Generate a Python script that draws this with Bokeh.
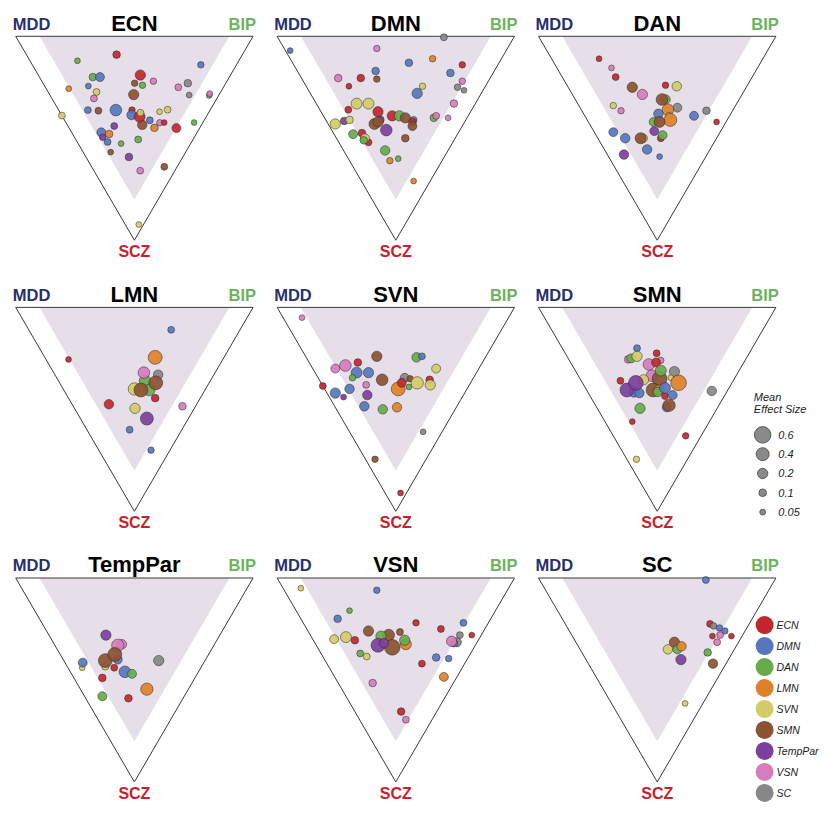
import numpy as np
from bokeh.plotting import figure
from bokeh.models import Range1d, ColumnDataSource
from bokeh.embed import file_html
from bokeh.resources import INLINE
from bokeh.core.properties import value

# ---------------- data ----------------
NETWORKS = ["ECN", "DMN", "DAN", "LMN", "SVN", "SMN", "TempPar", "VSN", "SC"]
NET_COLORS = ["#c1272d", "#5577bd", "#67ab4b", "#e0812a", "#d3cc66",
              "#8b5330", "#7d3f9d", "#d77cbc", "#878787"]
LEGEND_LABELS = ["ECN", "DMN", "DAN", "LMN", "SVN", "SMN", "TempPar", "VSN", "SC"]
SIZE_LEGEND_ES = [0.6, 0.4, 0.2, 0.1, 0.05]
SIZE_LEGEND_LABELS = ["0.6", "0.4", "0.2", "0.1", "0.05"]
CORNER_LABELS = ["MDD", "BIP", "SCZ"]
PANEL_TITLES = ["ECN", "DMN", "DAN", "LMN", "SVN", "SMN", "TempPar", "VSN", "SC"]

# each panel: network of point, BIP share, SCZ share (MDD = 1 - BIP - SCZ), mean effect size
ECN_NET = ["ECN", "DAN", "DMN", "ECN", "DAN", "DMN", "VSN", "SMN", "DAN", "DMN", "SC", "VSN", "LMN",
           "SVN", "SMN", "SC", "SC", "VSN", "VSN", "DMN", "SMN", "DMN", "ECN", "DMN", "SMN", "ECN",
           "SVN", "SVN", "SVN", "SVN", "DMN", "VSN", "ECN", "LMN", "ECN", "DAN", "TempPar", "DMN",
           "LMN", "TempPar", "DMN", "DAN", "DAN", "SMN", "TempPar", "SMN", "VSN", "SVN"]
ECN_BIP = [0.38, 0.20, 0.71, 0.43, 0.225, 0.255, 0.47, 0.386, 0.414, 0.184, 0.61, 0.56, 0.095,
           0.204, 0.354, 0.587, 0.67, 0.677, 0.177, 0.123, 0.166, 0.241, 0.309, 0.295, 0.316, 0.325,
           0.338, 0.421, 0.46, 0.0, 0.359, 0.395, 0.414, 0.36, 0.452, 0.54, 0.195, 0.125,
           0.154, 0.119, 0.128, 0.181, 0.263, 0.116, 0.181, 0.306, 0.195, 0.057]
ECN_SCZ = [0.09, 0.12, 0.14, 0.19, 0.20, 0.20, 0.22, 0.23, 0.24, 0.244, 0.23, 0.25, 0.257,
           0.273, 0.286, 0.288, 0.29, 0.281, 0.305, 0.362, 0.365, 0.362, 0.362, 0.386, 0.434, 0.394,
           0.375, 0.37, 0.36, 0.389, 0.412, 0.424, 0.423, 0.449, 0.45, 0.423, 0.44, 0.471,
           0.479, 0.495, 0.518, 0.526, 0.506, 0.568, 0.592, 0.64, 0.659, 0.923]
ECN_ES = [0.1, 0.05, 0.07, 0.2, 0.1, 0.15, 0.07, 0.07, 0.07, 0.05, 0.1, 0.08, 0.05,
          0.08, 0.2, 0.05, 0.05, 0.05, 0.08, 0.08, 0.08, 0.3, 0.07, 0.17, 0.17, 0.25,
          0.08, 0.05, 0.08, 0.08, 0.08, 0.07, 0.05, 0.1, 0.15, 0.05, 0.08, 0.15,
          0.1, 0.07, 0.08, 0.05, 0.08, 0.05, 0.1, 0.08, 0.08, 0.05]

DMN_NET = ["SC", "DMN", "VSN", "DMN", "LMN", "ECN", "DMN", "DMN", "SMN", "ECN", "VSN", "ECN",
           "VSN", "SVN", "SC", "SC", "DMN", "SVN", "SVN", "VSN", "ECN", "ECN", "TempPar", "ECN",
           "DAN", "SMN", "DMN", "ECN", "SMN", "DAN", "VSN", "VSN", "TempPar", "SVN", "SVN", "SMN",
           "SMN", "TempPar", "DAN", "ECN", "ECN", "SVN", "DAN", "SMN", "DAN", "LMN", "DAN", "LMN"]
DMN_BIP = [0.70, 0.02, 0.39, 0.49, 0.60, 0.71, 0.64, 0.33, 0.315, 0.25, 0.155, 0.18,
           0.67, 0.49, 0.635, 0.655, 0.45, 0.17, 0.22, 0.58, 0.12, 0.24, 0.23, 0.29,
           0.32, 0.34, 0.37, 0.36, 0.35, 0.46, 0.475, 0.52, 0.075, 0.10, 0.03, 0.195,
           0.215, 0.23, 0.08, 0.12, 0.125, 0.12, 0.11, 0.29, 0.175, 0.17, 0.21, 0.22]
DMN_SCZ = [0.005, 0.07, 0.06, 0.13, 0.11, 0.14, 0.18, 0.17, 0.21, 0.205, 0.205, 0.245,
           0.22, 0.245, 0.25, 0.265, 0.28, 0.33, 0.33, 0.33, 0.36, 0.37, 0.41, 0.39,
           0.39, 0.40, 0.41, 0.42, 0.44, 0.40, 0.39, 0.40, 0.415, 0.41, 0.43, 0.43,
           0.42, 0.46, 0.48, 0.475, 0.52, 0.50, 0.51, 0.50, 0.56, 0.61, 0.60, 0.71]
DMN_ES = [0.08, 0.05, 0.07, 0.1, 0.07, 0.07, 0.1, 0.1, 0.07, 0.1, 0.1, 0.05,
          0.07, 0.07, 0.07, 0.05, 0.2, 0.25, 0.25, 0.1, 0.08, 0.2, 0.1, 0.2,
          0.2, 0.2, 0.08, 0.1, 0.15, 0.1, 0.08, 0.05, 0.1, 0.1, 0.2, 0.25,
          0.2, 0.3, 0.15, 0.1, 0.08, 0.15, 0.1, 0.1, 0.17, 0.07, 0.05, 0.05]

DAN_NET = ["ECN", "VSN", "ECN", "ECN", "SVN", "SMN", "VSN", "DAN", "SMN", "SC", "LMN", "SVN",
           "VSN", "SC", "DMN", "ECN", "DMN", "SVN", "LMN", "DAN", "SMN", "TempPar", "ECN", "DAN",
           "DMN", "DMN", "SVN", "SMN", "DMN", "TempPar", "DMN"]
DAN_BIP = [0.20, 0.23, 0.225, 0.415, 0.46, 0.27, 0.295, 0.38, 0.365, 0.41, 0.365, 0.145,
           0.165, 0.525, 0.46, 0.54, 0.315, 0.355, 0.35, 0.275, 0.30, 0.255, 0.265, 0.28,
           0.08, 0.115, 0.19, 0.18, 0.18, 0.07, 0.215]
DAN_SCZ = [0.11, 0.155, 0.20, 0.24, 0.245, 0.25, 0.285, 0.31, 0.31, 0.35, 0.36, 0.34,
           0.365, 0.365, 0.39, 0.42, 0.38, 0.39, 0.41, 0.42, 0.42, 0.465, 0.50, 0.485,
           0.47, 0.50, 0.50, 0.50, 0.555, 0.58, 0.59]
DAN_ES = [0.05, 0.04, 0.08, 0.07, 0.17, 0.2, 0.2, 0.17, 0.3, 0.15, 0.3, 0.07,
          0.07, 0.1, 0.15, 0.05, 0.17, 0.08, 0.4, 0.15, 0.25, 0.15, 0.08, 0.15,
          0.15, 0.17, 0.15, 0.25, 0.17, 0.17, 0.05]

LMN_NET = ["DMN", "ECN", "LMN", "SVN", "DAN", "DAN", "SMN", "VSN", "SC", "SMN", "ECN", "ECN",
           "VSN", "SVN", "TempPar", "DMN", "DMN"]
LMN_BIP = [0.60, 0.095, 0.465, 0.30, 0.365, 0.36, 0.325, 0.38, 0.435, 0.405, 0.365, 0.155,
           0.46, 0.255, 0.28, 0.18, 0.22]
LMN_SCZ = [0.11, 0.255, 0.245, 0.40, 0.36, 0.405, 0.405, 0.32, 0.33, 0.37, 0.445, 0.475,
           0.485, 0.495, 0.545, 0.60, 0.70]
LMN_ES = [0.08, 0.05, 0.45, 0.35, 0.3, 0.3, 0.45, 0.3, 0.17, 0.45, 0.1, 0.17,
          0.1, 0.2, 0.4, 0.08, 0.07]

SVN_NET = ["VSN", "SMN", "DAN", "DMN", "ECN", "VSN", "VSN", "SVN", "DMN", "DMN", "DAN", "SMN",
           "SC", "SMN", "ECN", "LMN", "ECN", "SVN", "SVN", "DAN", "VSN", "ECN", "DMN", "DMN",
           "TempPar", "TempPar", "DMN", "DAN", "LMN", "SC", "SMN", "ECN"]
SVN_BIP = [0.08, 0.30, 0.465, 0.49, 0.205, 0.095, 0.145, 0.52, 0.175, 0.225, 0.145, 0.265,
           0.365, 0.385, 0.465, 0.31, 0.34, 0.405, 0.455, 0.36, 0.185, 0.0, 0.105, 0.035,
           0.06, 0.165, 0.125, 0.195, 0.26, 0.31, 0.04, 0.065]
SVN_SCZ = [0.05, 0.24, 0.245, 0.24, 0.27, 0.30, 0.285, 0.30, 0.32, 0.32, 0.345, 0.355,
           0.345, 0.35, 0.355, 0.40, 0.37, 0.37, 0.38, 0.39, 0.38, 0.385, 0.40, 0.42,
           0.44, 0.43, 0.485, 0.50, 0.49, 0.61, 0.745, 0.91]
SVN_ES = [0.05, 0.2, 0.17, 0.08, 0.1, 0.15, 0.3, 0.15, 0.25, 0.2, 0.07, 0.3,
          0.15, 0.07, 0.1, 0.45, 0.15, 0.35, 0.2, 0.05, 0.08, 0.08, 0.17, 0.2,
          0.05, 0.17, 0.17, 0.17, 0.17, 0.05, 0.07, 0.05]

SMN_NET = ["DMN", "ECN", "VSN", "DAN", "SVN", "VSN", "VSN", "ECN", "SC", "VSN", "SMN", "DAN",
           "SVN", "SVN", "LMN", "ECN", "DMN", "DMN", "TempPar", "TempPar", "SMN", "LMN", "DAN",
           "ECN", "DMN", "DMN", "DMN", "SMN", "DAN", "SC", "ECN", "ECN", "SVN"]
SMN_BIP = [0.315, 0.385, 0.25, 0.265, 0.295, 0.385, 0.325, 0.36, 0.415, 0.31, 0.335, 0.36,
           0.265, 0.385, 0.405, 0.165, 0.195, 0.215, 0.17, 0.225, 0.28, 0.305, 0.295,
           0.315, 0.335, 0.35, 0.295, 0.31, 0.18, 0.525, 0.115, 0.305, 0.04]
SMN_SCZ = [0.20, 0.225, 0.255, 0.25, 0.24, 0.26, 0.28, 0.27, 0.315, 0.335, 0.35, 0.31,
           0.355, 0.345, 0.37, 0.36, 0.415, 0.42, 0.405, 0.37, 0.405, 0.405, 0.415,
           0.435, 0.395, 0.43, 0.49, 0.48, 0.495, 0.41, 0.56, 0.63, 0.745]
SMN_ES = [0.08, 0.08, 0.1, 0.15, 0.2, 0.07, 0.3, 0.15, 0.2, 0.3, 0.5, 0.25,
          0.2, 0.05, 0.55, 0.08, 0.2, 0.17, 0.45, 0.5, 0.45, 0.2, 0.17,
          0.08, 0.25, 0.15, 0.15, 0.35, 0.2, 0.17, 0.05, 0.07, 0.07]

TEMPPAR_NET = ["TempPar", "VSN", "VSN", "DMN", "SVN", "SMN", "SMN", "ECN", "SC", "SVN", "DMN",
               "DMN", "DAN", "ECN", "LMN", "DAN", "ECN"]
TEMPPAR_BIP = [0.24, 0.285, 0.265, 0.23, 0.16, 0.175, 0.23, 0.195, 0.40, 0.06, 0.075,
               0.23, 0.255, 0.12, 0.28, 0.075, 0.18]
TEMPPAR_SCZ = [0.28, 0.325, 0.33, 0.40, 0.435, 0.405, 0.375, 0.44, 0.405, 0.44, 0.415,
               0.46, 0.47, 0.49, 0.545, 0.58, 0.59]
TEMPPAR_ES = [0.2, 0.17, 0.35, 0.15, 0.08, 0.45, 0.45, 0.08, 0.2, 0.05, 0.15,
              0.3, 0.15, 0.1, 0.35, 0.15, 0.1]

VSN_NET = ["SVN", "DMN", "DAN", "DMN", "ECN", "DMN", "ECN", "ECN", "SC", "SMN", "SMN", "SMN",
           "DAN", "SVN", "SVN", "ECN", "LMN", "DAN", "TempPar", "SMN", "TempPar", "SC", "DMN",
           "VSN", "DAN", "SVN", "DMN", "DMN", "ECN", "LMN", "VSN", "ECN", "VSN"]
VSN_BIP = [0.075, 0.39, 0.225, 0.155, 0.475, 0.675, 0.565, 0.68, 0.63, 0.255, 0.385, 0.33,
           0.295, 0.145, 0.09, 0.175, 0.38, 0.385, 0.26, 0.315, 0.29, 0.60, 0.585,
           0.58, 0.165, 0.185, 0.475, 0.525, 0.40, 0.46, 0.145, 0.195, 0.195]
VSN_SCZ = [0.05, 0.06, 0.16, 0.20, 0.22, 0.22, 0.25, 0.28, 0.28, 0.26, 0.265, 0.28,
           0.285, 0.29, 0.30, 0.305, 0.325, 0.305, 0.33, 0.34, 0.32, 0.315, 0.32,
           0.31, 0.37, 0.385, 0.39, 0.395, 0.42, 0.485, 0.515, 0.655, 0.695]
VSN_ES = [0.05, 0.07, 0.05, 0.1, 0.07, 0.08, 0.08, 0.05, 0.08, 0.2, 0.08, 0.3,
          0.2, 0.25, 0.15, 0.1, 0.25, 0.2, 0.45, 0.55, 0.17, 0.15, 0.1,
          0.2, 0.08, 0.08, 0.1, 0.07, 0.08, 0.15, 0.1, 0.1, 0.08]

SC_NET = ["DMN", "ECN", "SC", "DMN", "DMN", "VSN", "ECN", "ECN", "VSN", "SMN", "SVN", "DAN",
          "LMN", "DAN", "TempPar", "SMN", "SVN"]
SC_BIP = [0.70, 0.61, 0.62, 0.64, 0.655, 0.625, 0.59, 0.67, 0.595, 0.415, 0.37, 0.41,
          0.435, 0.53, 0.40, 0.525, 0.31]
SC_SCZ = [0.01, 0.225, 0.235, 0.245, 0.26, 0.28, 0.285, 0.285, 0.315, 0.315, 0.35, 0.35,
          0.335, 0.365, 0.40, 0.42, 0.615]
SC_ES = [0.08, 0.08, 0.07, 0.07, 0.07, 0.08, 0.05, 0.05, 0.08, 0.2, 0.17, 0.15,
         0.17, 0.1, 0.2, 0.17, 0.05]

PANEL_DATA = [
    (ECN_NET, ECN_BIP, ECN_SCZ, ECN_ES),
    (DMN_NET, DMN_BIP, DMN_SCZ, DMN_ES),
    (DAN_NET, DAN_BIP, DAN_SCZ, DAN_ES),
    (LMN_NET, LMN_BIP, LMN_SCZ, LMN_ES),
    (SVN_NET, SVN_BIP, SVN_SCZ, SVN_ES),
    (SMN_NET, SMN_BIP, SMN_SCZ, SMN_ES),
    (TEMPPAR_NET, TEMPPAR_BIP, TEMPPAR_SCZ, TEMPPAR_ES),
    (VSN_NET, VSN_BIP, VSN_SCZ, VSN_ES),
    (SC_NET, SC_BIP, SC_SCZ, SC_ES),
]

# ---------------- layout / style ----------------
FONT = value("Liberation Sans")
PANEL_X = [15.5, 282.0, 548.5]
PANEL_Y = [36.5, 313.0, 589.0]
TRI_W = 242.0
TRI_H = 208.0
SHADE_MIN = 0.1          # shaded region: MDD >= 0.1 and BIP >= 0.1
ES_SCALE = [0.05, 0.1, 0.2, 0.4, 0.6]
DIAM_SCALE = [5.8, 7.6, 10.3, 13.0, 16.5]
COLOR_MAP = dict(zip(NETWORKS, NET_COLORS))
MDD_COLOR, BIP_COLOR, SCZ_COLOR = "#27306b", "#6cb35e", "#c8212b"
SHADE_COLOR = "#e6dee8"

p = figure(width=822, height=803, output_backend="svg", toolbar_location=None,
           x_range=Range1d(0, 838), y_range=Range1d(819, 0), min_border=0)
p.axis.visible = False
p.grid.visible = False
p.outline_line_color = None
p.background_fill_color = "white"


def tern(x0, y0, mdd, bip, scz):
    x = x0 + TRI_W * (np.asarray(bip) + np.asarray(scz) / 2.0)
    y = y0 + TRI_H * np.asarray(scz)
    return x, y


shade_xs, shade_ys, out_xs, out_ys = [], [], [], []
tx, ty, tt = [], [], []
mx, my, bx, by, sx, sy = [], [], [], [], [], []
pts = dict(x=[], y=[], color=[], size=[])

for i, (net, bip, scz, es) in enumerate(PANEL_DATA):
    x0 = PANEL_X[i % 3]
    y0 = PANEL_Y[i // 3]
    # outer triangle: MDD, BIP, SCZ corners
    ox, oy = tern(x0, y0, [1, 0, 0], [0, 1, 0], [0, 0, 1])
    out_xs.append(list(ox) + [ox[0]])
    out_ys.append(list(oy) + [oy[0]])
    m = SHADE_MIN
    ix, iy = tern(x0, y0, [1 - m, m, m], [m, 1 - m, m], [0, 0, 1 - 2 * m])
    shade_xs.append(list(ix))
    shade_ys.append(list(iy))
    tx.append(x0 + TRI_W / 2)
    ty.append(y0 - 13.5)
    tt.append(PANEL_TITLES[i])
    mx.append(ox[0] - 3); my.append(oy[0] - 13)
    bx.append(ox[1] + 3); by.append(oy[1] - 13)
    sx.append(ox[2]); sy.append(oy[2] + 11.5)
    mdd = 1 - np.asarray(bip) - np.asarray(scz)
    px, py = tern(x0, y0, mdd, bip, scz)
    pts["x"] += list(px)
    pts["y"] += list(py)
    pts["color"] += [COLOR_MAP[n] for n in net]
    pts["size"] += list(np.interp(es, ES_SCALE, DIAM_SCALE))

p.patches(shade_xs, shade_ys, fill_color=SHADE_COLOR, line_color=None)
p.multi_line(out_xs, out_ys, line_color="#3a3a3a", line_width=1)

p.scatter("x", "y", source=ColumnDataSource(pts), size="size", fill_color="color",
          fill_alpha=0.92, line_color="#2a2a2a", line_alpha=0.75, line_width=0.7)

p.text(tx, ty, text=tt, text_font=FONT, text_font_style="bold", text_font_size="22px",
       text_align="center", text_baseline="middle", text_color="black")
p.text(mx, my, text=[CORNER_LABELS[0]] * 9, text_font=FONT, text_font_style="bold",
       text_font_size="16.5px", text_align="left", text_baseline="middle", text_color=MDD_COLOR)
p.text(bx, by, text=[CORNER_LABELS[1]] * 9, text_font=FONT, text_font_style="bold",
       text_font_size="16.5px", text_align="right", text_baseline="middle", text_color=BIP_COLOR)
p.text(sx, sy, text=[CORNER_LABELS[2]] * 9, text_font=FONT, text_font_style="bold",
       text_font_size="16px", text_align="center", text_baseline="middle", text_color=SCZ_COLOR)

# effect size legend
p.text([768, 768], [404, 417], text=["Mean", "Effect Size"], text_font=FONT,
       text_font_style="italic", text_font_size="11px", text_baseline="middle", text_color="#222222")
ly = [443 + 19.7 * k for k in range(len(SIZE_LEGEND_ES))]
p.scatter([777] * len(ly), ly, size=list(np.interp(SIZE_LEGEND_ES, ES_SCALE, DIAM_SCALE)),
          fill_color="#8a8a8a", line_color="#444444", line_width=0.8)
p.text([793] * len(ly), ly, text=SIZE_LEGEND_LABELS, text_font=FONT, text_font_style="italic",
       text_font_size="11px", text_baseline="middle", text_color="#222222")

# network legend
ny = [637 + 21.4 * k for k in range(len(NETWORKS))]
p.scatter([779] * len(ny), ny, size=18, fill_color=NET_COLORS, line_color=None)
p.text([791] * len(ny), ny, text=LEGEND_LABELS, text_font=FONT, text_font_style="italic",
       text_font_size="10.5px", text_baseline="middle", text_color="#222222")

open("out.html", "w").write(file_html(p, INLINE))
